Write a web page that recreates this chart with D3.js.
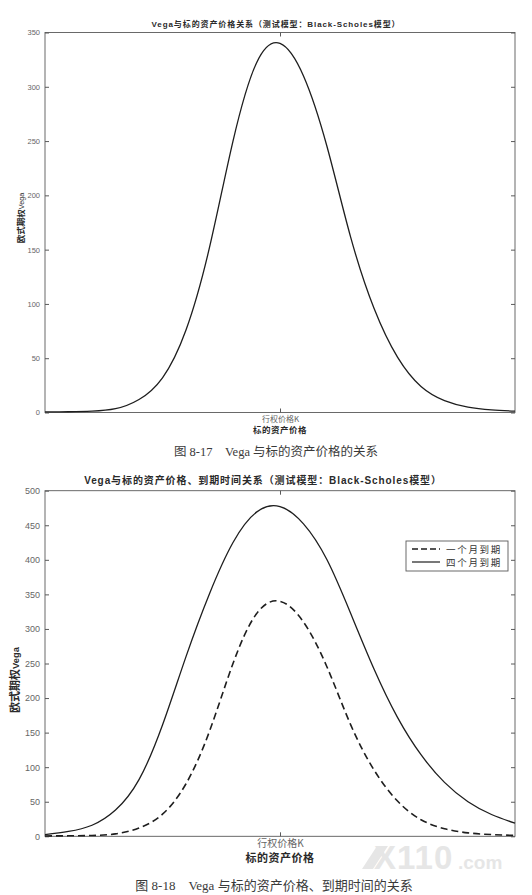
<!DOCTYPE html>
<html>
<head>
<meta charset="utf-8">
<script src="https://cdn.jsdelivr.net/npm/d3@7/dist/d3.min.js"></script>
<style>
  html, body { margin: 0; padding: 0; background: #fff; }
  svg { display: block; }
  text { font-family: "Liberation Sans", "Noto Sans CJK SC", sans-serif; }
</style>
</head>
<body>
<svg id="chart" width="532" height="895"></svg>
<script>
// ---- data ----
const prices = [80, 82, 84, 86, 88, 90, 92, 94, 96, 98, 100, 102, 104, 106, 108, 110, 112, 114, 116, 118, 120];
const strikePrice = 100;
const vegaOneMonth = [0.5, 0.7, 1.2, 3.5, 12, 32, 76, 152, 250, 322, 340, 310, 245, 162, 96, 51, 24, 11, 5, 2.5, 1.2];
const vegaFourMonth = [2.5, 7, 16, 38, 82, 161, 260, 351, 425, 469, 477, 452, 400, 323, 242, 172, 118, 78, 50, 31.5, 19];
const yTicksTop = [0, 50, 100, 150, 200, 250, 300, 350];
const yTicksBottom = [0, 50, 100, 150, 200, 250, 300, 350, 400, 450, 500];
const xTickLabels = ["行权价格K"];
const seriesNames = ["一个月到期", "四个月到期"];

const svg = d3.select("#chart");
const ink = "#1e1e1e";
const axisCol = "#5a5a5a";
const labelCol = "#666";

function drawPanel(opts) {
  const x = d3.scaleLinear().domain([80, 120]).range([45, 515]);
  const y = d3.scaleLinear().domain(opts.yDomain).range([opts.bottom, opts.top]);
  const g = svg.append("g");

  // left axis
  const left = g.append("g").attr("transform", `translate(${x.range()[0]},0)`)
    .call(d3.axisLeft(y).tickValues(opts.yTicks).tickSizeInner(-4).tickSizeOuter(0).tickPadding(5));
  left.select(".domain").remove();
  left.selectAll("line").attr("stroke", axisCol);
  left.selectAll("text").attr("fill", labelCol).style("font-size", opts.tickFont + "px")
    .style("font-family", "'Liberation Sans', sans-serif");

  // right axis (ticks only)
  const right = g.append("g").attr("transform", `translate(${x.range()[1]},0)`)
    .call(d3.axisRight(y).tickValues(opts.yTicks).tickSizeInner(-4).tickSizeOuter(0).tickFormat(""));
  right.select(".domain").remove();
  right.selectAll("line").attr("stroke", axisCol);

  // bottom axis
  const bottom = g.append("g").attr("transform", `translate(0,${opts.bottom})`)
    .call(d3.axisBottom(x).tickValues([strikePrice]).tickSizeInner(-4).tickSizeOuter(0)
      .tickPadding(4).tickFormat((d, i) => xTickLabels[i]));
  bottom.select(".domain").remove();
  bottom.selectAll("line").attr("stroke", axisCol);
  bottom.selectAll("text").attr("fill", labelCol).style("font-size", opts.xTickFont + "px")
    .style("font-family", "'Noto Sans CJK SC', sans-serif");

  // top axis
  const topAx = g.append("g").attr("transform", `translate(0,${opts.top})`)
    .call(d3.axisTop(x).tickValues([strikePrice]).tickSizeInner(-4).tickSizeOuter(0).tickFormat(""));
  topAx.select(".domain").remove();
  topAx.selectAll("line").attr("stroke", axisCol);

  // frame
  g.append("rect")
    .attr("x", x.range()[0]).attr("y", opts.top)
    .attr("width", x.range()[1] - x.range()[0]).attr("height", opts.bottom - opts.top)
    .attr("fill", "none").attr("stroke", axisCol).attr("stroke-width", 0.9);

  // lines
  const line = d3.line().curve(d3.curveNatural)
    .x((d, i) => x(prices[i])).y(d => y(Math.max(0, d)));
  opts.series.forEach(s => {
    g.append("path").datum(s.values)
      .attr("d", line)
      .attr("fill", "none")
      .attr("stroke", ink)
      .attr("stroke-width", s.width)
      .attr("stroke-dasharray", s.dash || null);
  });

  // title
  g.append("text")
    .attr("x", opts.titleX).attr("y", opts.titleY)
    .attr("text-anchor", "middle")
    .attr("fill", "#2a2a2a")
    .style("font-size", opts.titleFont + "px").style("font-weight", "bold")
    .style("letter-spacing", opts.titleSpacing + "px")
    .style("font-family", "'Liberation Sans', 'Noto Sans CJK SC', sans-serif")
    .text(opts.title);

  // y label
  const yl = g.append("text")
    .attr("transform", `translate(${opts.yLabelX},${opts.yLabelY}) rotate(-90)`)
    .attr("text-anchor", "middle")
    .attr("fill", "#2a2a2a")
    .style("font-size", opts.yLabelFont + "px");
  yl.append("tspan").style("font-weight", "bold").style("font-family", "'Noto Sans CJK SC', sans-serif").text("欧式期权");
  yl.append("tspan").style("font-weight", opts.vegaBold ? "bold" : "normal")
    .style("font-size", (opts.yLabelFont * 0.85) + "px")
    .style("font-family", "'Liberation Sans', sans-serif").text("Vega");

  // x label
  g.append("text")
    .attr("x", x(strikePrice)).attr("y", opts.xLabelY)
    .attr("text-anchor", "middle")
    .attr("fill", "#2a2a2a")
    .style("font-size", opts.xLabelFont + "px").style("font-weight", "bold")
    .style("letter-spacing", "0.5px")
    .style("font-family", "'Noto Sans CJK SC', sans-serif")
    .text("标的资产价格");

  // caption
  g.append("text")
    .attr("x", opts.captionX).attr("y", opts.captionY)
    .attr("text-anchor", "middle")
    .attr("fill", "#3a3a3a")
    .style("font-size", opts.captionFont + "px")
    .style("font-family", "'Liberation Serif', 'DejaVu Serif', 'Noto Sans CJK SC', serif")
    .text(opts.caption);

  return { g, x, y };
}

drawPanel({
  yDomain: [0, 350], top: 32.5, bottom: 412.5, yTicks: yTicksTop,
  tickFont: 7.5, xTickFont: 8,
  series: [{ values: vegaOneMonth, width: 1.3 }],
  title: "Vega与标的资产价格关系（测试模型：Black-Scholes模型）",
  titleX: 276, titleY: 27, titleFont: 8, titleSpacing: 0.9,
  yLabelX: 24, yLabelY: 218, yLabelFont: 8.5,
  xLabelY: 433, xLabelFont: 8.5,
  captionX: 276, captionY: 456, captionFont: 12.5, caption: "图 8-17　Vega 与标的资产价格的关系"
});

drawPanel({
  yDomain: [0, 500], top: 490.7, bottom: 836.3, yTicks: yTicksBottom,
  tickFont: 9, xTickFont: 10,
  series: [
    { values: vegaOneMonth, width: 1.6, dash: "7,4" },
    { values: vegaFourMonth, width: 1.3 }
  ],
  title: "Vega与标的资产价格、到期时间关系（测试模型：Black-Scholes模型）",
  titleX: 263, titleY: 484, titleFont: 10, titleSpacing: 0.9,
  yLabelX: 19, yLabelY: 680, yLabelFont: 11, vegaBold: true,
  xLabelY: 862, xLabelFont: 11,
  captionX: 274, captionY: 890, captionFont: 13, caption: "图 8-18　Vega 与标的资产价格、到期时间的关系"
});

// legend
const lg = svg.append("g");
lg.append("rect").attr("x", 406).attr("y", 541).attr("width", 102).attr("height", 30)
  .attr("fill", "#fff").attr("stroke", axisCol).attr("stroke-width", 0.9);
const legendDash = ["6,3", null];
seriesNames.forEach((name, i) => {
  const yy = 549 + i * 13;
  lg.append("line").attr("x1", 412).attr("x2", 440).attr("y1", yy).attr("y2", yy)
    .attr("stroke", ink).attr("stroke-width", i === 0 ? 1.6 : 1.2)
    .attr("stroke-dasharray", legendDash[i]);
  lg.append("text").attr("x", 446).attr("y", yy + 3.6)
    .attr("fill", "#333").style("font-size", "9.5px")
    .style("letter-spacing", "1.7px")
    .style("font-family", "'Noto Sans CJK SC', sans-serif")
    .text(name);
});

// watermark
const wm = svg.append("g").attr("fill", "#e6e6e6");
wm.append("path").attr("d", "M362,869 L377,846 L388,846 L373,869 Z");
wm.append("text").attr("x", 374).attr("y", 869).style("font-size", "33px").style("font-weight", "bold")
  .style("letter-spacing", "1px")
  .style("font-family", "'Liberation Sans', sans-serif").text("X110");
wm.append("text").attr("x", 458).attr("y", 869).style("font-size", "19px").style("font-weight", "bold")
  .style("font-family", "'Liberation Sans', sans-serif").text(".com");
</script>
</body>
</html>
